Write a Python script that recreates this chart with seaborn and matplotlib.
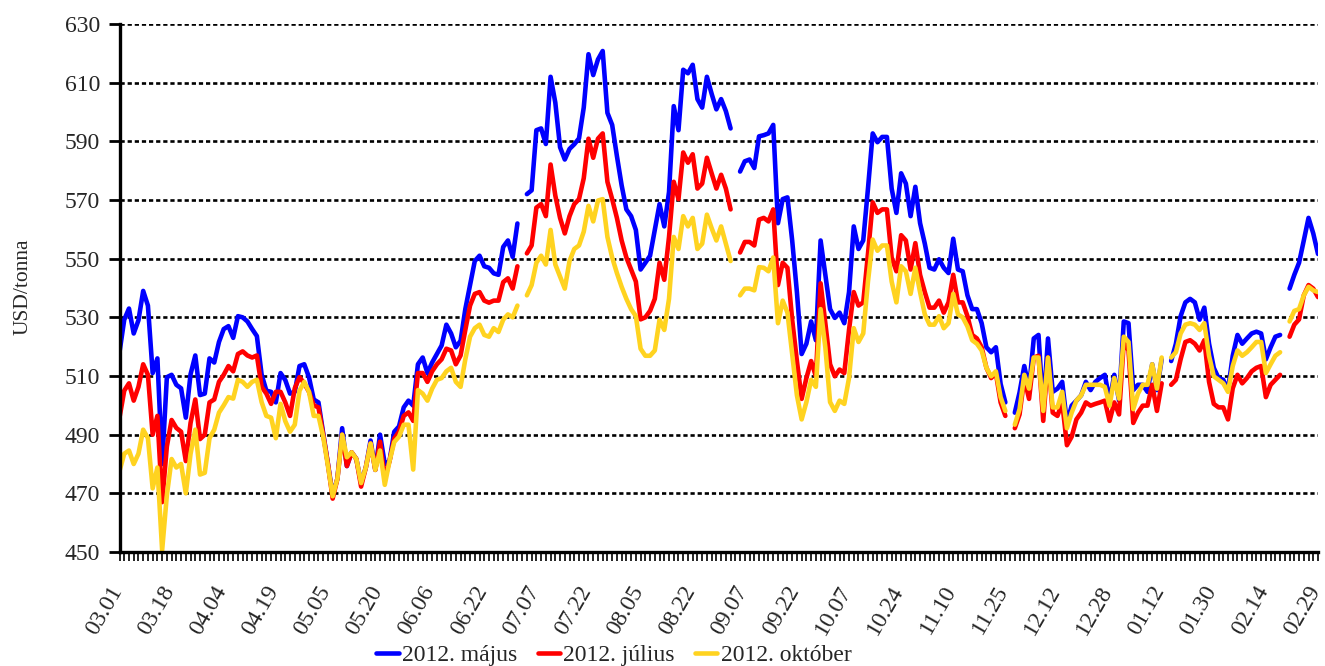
import numpy as np
import pandas as pd
import matplotlib
matplotlib.use("Agg")
import matplotlib.pyplot as plt
import matplotlib.transforms as mtransforms
import seaborn as sns

nan = np.nan

series_names = ["2012. május", "2012. július", "2012. október"]
tick_labels = ["03.01", "03.18", "04.04", "04.19", "05.05", "05.20", "06.06", "06.22",
               "07.07", "07.22", "08.05", "08.22", "09.07", "09.22", "10.07", "10.24",
               "11.10", "11.25", "12.12", "12.28", "01.12", "01.30", "02.14", "02.29"]
label_step = 11

majus = [
    518.1, 529.2, 533.0, 524.5, 529.0, 539.0, 534.0, 511.0, 516.0, 480.0,
    509.6, 510.4, 507.0, 505.8, 495.8, 510.6, 517.0, 503.5, 504.0, 516.0,
    514.6, 521.6, 526.0, 527.0, 523.0, 530.4, 530.0, 528.6, 526.0, 523.6,
    510.5, 505.0, 504.6, 501.0, 511.0, 508.6, 504.0, 504.6, 513.4, 514.0,
    509.6, 502.0, 501.0, 490.5, 480.0, 469.5, 475.0, 492.2, 479.3, 484.0,
    481.7, 473.5, 478.8, 488.0, 478.0, 490.0, 480.0, 481.0, 491.0, 492.8,
    499.3, 501.6, 499.9, 514.0, 516.3, 511.0, 514.6, 517.5, 520.4, 527.5,
    524.5, 519.8, 522.0, 532.8, 541.0, 549.2, 551.0, 547.4, 546.9, 545.0,
    544.5, 554.0, 556.2, 550.6, 562.0, nan, 572.0, 573.3, 593.8, 594.4,
    589.1, 612.0, 603.2, 588.0, 583.8, 587.4, 589.0, 591.0, 601.5, 619.7,
    612.6, 617.9, 620.8, 599.7, 595.6, 585.0, 575.0, 566.8, 564.5, 559.8,
    546.3, 548.6, 551.0, 559.8, 568.6, 561.0, 572.7, 602.0, 593.8, 614.4,
    613.2, 616.1, 604.4, 601.5, 612.0, 606.2, 600.9, 604.4, 600.3, 594.4,
    nan, 579.7, 583.2, 583.8, 580.9, 591.7, 592.1, 592.7, 595.6, 562.1,
    570.3, 570.9, 556.2, 538.6, 517.5, 521.0, 528.6, 522.2, 556.2, 544.5,
    532.8, 529.8, 531.6, 528.0, 538.6, 561.0, 553.3, 556.2, 573.9, 592.7,
    589.7, 591.5, 591.5, 573.9, 565.6, 579.1, 575.6, 564.5, 574.5, 562.1,
    555.1, 546.9, 546.3, 549.8, 546.9, 545.1, 556.8, 546.3, 545.7, 537.5,
    532.8, 532.8, 528.0, 519.8, 518.1, 519.8, 507.3, 501.0, nan, 497.5,
    504.4, 513.4, 505.7, 522.8, 524.0, 498.7, 522.8, 504.6, 505.7, 508.0,
    494.0, 499.9, 501.6, 503.4, 508.0, 505.2, 508.0, 509.3, 510.4, 501.6,
    510.4, 501.7, 528.6, 528.0, 505.2, 507.0, 507.0, 504.6, 514.0, 505.2,
    515.7, nan, 515.1, 521.0, 530.4, 535.1, 536.3, 535.1, 529.2, 533.3,
    521.0, 512.8, 509.3, 508.7, 505.2, 516.9, 524.0, 521.0, 522.8, 524.5,
    525.1, 524.5, 515.7, 519.8, 523.4, 524.0, nan, 539.8, 544.5, 548.6,
    556.2, 563.9, 558.6, 551.6,
]

julius = [
    495.8, 505.0, 507.5, 501.6, 506.3, 514.0, 510.4, 490.0, 496.4, 467.0,
    486.0, 495.0, 492.3, 491.0, 481.0, 494.0, 502.0, 488.5, 490.0, 501.0,
    502.0, 508.0, 510.4, 513.4, 511.6, 517.5, 518.4, 517.0, 516.3, 517.0,
    506.3, 504.0, 500.5, 504.6, 504.6, 501.0, 496.4, 505.8, 509.6, 507.5,
    504.6, 500.0, 499.3, 490.0, 480.0, 468.2, 475.0, 490.0, 479.3, 484.0,
    481.7, 472.3, 478.8, 487.0, 478.0, 487.6, 475.0, 481.0, 488.7, 491.0,
    496.4, 497.6, 494.7, 511.0, 511.0, 508.0, 511.6, 514.0, 515.7, 519.3,
    518.7, 514.0, 517.0, 525.7, 534.0, 538.0, 538.6, 535.7, 535.0, 535.7,
    535.7, 542.0, 543.3, 539.8, 547.4, nan, 551.8, 554.5, 567.4, 568.6,
    564.5, 582.1, 571.5, 563.9, 558.6, 564.5, 568.6, 570.3, 577.4, 590.9,
    584.4, 590.9, 592.7, 576.2, 570.3, 563.9, 556.2, 550.4, 546.3, 542.2,
    529.3, 530.0, 532.2, 536.3, 548.6, 542.8, 557.4, 576.2, 570.3, 586.2,
    582.7, 585.6, 573.9, 575.6, 584.4, 579.1, 573.9, 578.6, 573.9, 566.8,
    nan, 552.1, 555.7, 555.7, 554.5, 563.3, 563.9, 562.7, 566.8, 541.0,
    548.6, 546.9, 529.2, 515.1, 502.2, 509.3, 515.1, 509.9, 541.6, 528.0,
    514.0, 509.9, 512.2, 511.0, 525.7, 538.6, 534.0, 535.1, 551.6, 569.2,
    565.6, 566.8, 566.8, 550.4, 545.7, 558.0, 556.2, 546.3, 555.3, 544.5,
    538.6, 533.3, 533.3, 535.7, 531.6, 535.1, 544.5, 535.1, 535.1, 530.4,
    524.0, 522.8, 519.8, 512.8, 509.3, 511.0, 501.0, 496.4, nan, 492.2,
    496.9, 509.3, 502.2, 516.3, 516.9, 494.7, 516.3, 497.5, 496.4, 501.0,
    486.4, 489.3, 495.2, 497.5, 501.0, 499.9, 500.5, 501.0, 501.6, 494.7,
    501.0, 496.9, 521.6, 518.7, 494.0, 497.5, 499.9, 499.9, 507.0, 498.1,
    507.5, nan, 507.0, 508.7, 515.7, 521.6, 522.2, 521.0, 518.7, 522.2,
    508.0, 500.5, 499.3, 499.3, 495.2, 505.8, 510.4, 507.5, 509.3, 511.6,
    512.8, 513.4, 502.8, 507.0, 508.7, 510.4, nan, 523.4, 527.5, 529.3,
    537.5, 541.0, 539.8, 536.9,
]

oktober = [
    477.6, 483.5, 484.6, 480.0, 483.5, 491.7, 488.8, 471.7, 478.8, 450.6,
    469.4, 481.7, 478.8, 480.0, 470.0, 483.5, 491.7, 476.4, 477.0, 488.8,
    491.7, 497.5, 500.0, 502.8, 502.3, 508.7, 508.0, 506.3, 508.0, 508.7,
    501.1, 496.4, 495.8, 488.8, 500.5, 494.6, 491.0, 493.4, 505.0, 508.0,
    504.6, 496.4, 496.4, 489.3, 479.3, 469.0, 475.0, 490.0, 482.3, 484.0,
    481.7, 473.5, 478.8, 487.0, 478.0, 484.6, 472.9, 481.0, 487.5, 489.3,
    493.4, 493.4, 478.1, 505.2, 504.0, 501.6, 505.7, 508.7, 509.3, 511.6,
    512.8, 508.0, 506.3, 515.7, 523.4, 526.3, 527.5, 524.0, 523.4, 526.3,
    525.0, 529.2, 531.0, 530.0, 534.0, nan, 537.5, 541.0, 548.6, 551.0,
    548.0, 559.8, 548.0, 543.9, 539.8, 549.2, 553.3, 554.5, 559.2, 568.0,
    562.7, 569.8, 570.3, 557.4, 550.4, 545.1, 540.4, 536.3, 532.8, 530.4,
    519.3, 516.9, 516.9, 518.7, 529.2, 525.7, 536.3, 557.4, 553.3, 564.5,
    561.0, 563.9, 553.3, 555.1, 565.0, 560.4, 556.2, 561.0, 555.1, 549.2,
    nan, 537.5, 539.8, 539.8, 539.2, 547.1, 546.9, 545.7, 550.4, 528.0,
    535.7, 531.6, 517.5, 503.4, 495.2, 501.1, 508.7, 506.3, 532.8, 519.8,
    501.1, 498.1, 501.6, 500.5, 509.3, 526.3, 521.6, 524.5, 542.2, 556.5,
    552.7, 554.5, 554.5, 542.2, 535.1, 547.4, 545.7, 538.0, 546.9, 538.6,
    531.0, 527.5, 527.5, 530.4, 526.3, 528.0, 538.0, 531.0, 530.0, 526.9,
    522.2, 521.0, 518.7, 512.8, 509.9, 511.6, 502.8, 498.1, nan, 493.4,
    498.7, 510.4, 505.7, 516.3, 516.3, 498.1, 516.3, 499.3, 499.3, 504.6,
    492.2, 497.5, 501.6, 503.4, 507.0, 507.0, 507.0, 507.0, 506.3, 499.9,
    509.3, 502.3, 523.4, 521.6, 498.7, 504.0, 507.0, 507.0, 514.0, 505.7,
    516.3, nan, 516.3, 518.1, 524.5, 527.5, 528.0, 527.5, 525.7, 528.0,
    516.9, 509.9, 508.7, 507.5, 504.6, 513.4, 518.7, 516.9, 518.1, 519.8,
    521.6, 521.6, 511.0, 514.0, 516.9, 518.1, nan, 528.6, 532.2, 532.8,
    537.5, 540.4, 539.2, 538.6,
]

colors = ["#0000FF", "#FF0000", "#FFD320"]

# ---- long table with segments so that gaps (missing days) stay open ----
rows = []
for name, vals in zip(series_names, [majus, julius, oktober]):
    seg = 0
    for i, v in enumerate(vals):
        if np.isnan(v):
            seg += 1
            continue
        rows.append((i, v, name, f"{name}-{seg}"))
df = pd.DataFrame(rows, columns=["idx", "price", "series", "seg"])
n_points = len(majus)

sns.set_theme(style="white")
plt.rcParams["font.family"] = ["Liberation Serif", "DejaVu Serif"]

W, H = 1325, 666
fig = plt.figure(figsize=(W / 100, H / 100), dpi=100)
left_px, right_px, top_px, bot_px = 119.5, 1318.0, 24.0, 552.0
ax = fig.add_axes([left_px / W, 1 - bot_px / H, (right_px - left_px) / W, (bot_px - top_px) / H])

sns.lineplot(data=df, x="idx", y="price", hue="series", units="seg", estimator=None,
             hue_order=series_names, palette=dict(zip(series_names, colors)),
             linewidth=3.3, ax=ax, legend=True, sort=True)

ax.set_xlim(0, n_points - 1)
ax.set_ylim(450, 630)
ax.set_yticks(np.arange(450, 631, 20))
ax.yaxis.grid(True, color="black", linestyle=(0, (1.6, 1.1)), linewidth=1.9)
ax.xaxis.grid(False)
ax.set_axisbelow(True)

xt = list(range(n_points))
xl = [""] * n_points
for k, lab in enumerate(tick_labels):
    xl[k * label_step] = lab
ax.set_xticks(xt)
ax.set_xticklabels(xl, rotation=60, ha="right", va="center", rotation_mode="anchor", fontsize=17)
ax.tick_params(axis="x", direction="out", length=6.5, width=1.2, color="black", pad=19, bottom=True)
ax.tick_params(axis="y", direction="out", length=8, width=2.0, color="black", labelsize=17, pad=6, left=True)
offset = mtransforms.ScaledTranslation(-2 / 100, 0, fig.dpi_scale_trans)
for lbl in ax.get_xticklabels():
    lbl.set_transform(lbl.get_transform() + offset)

for s in ["top", "right"]:
    ax.spines[s].set_visible(False)
for s in ["left", "bottom"]:
    ax.spines[s].set_color("black")
    ax.spines[s].set_linewidth(2.4)

ax.set_xlabel("")
ax.set_ylabel("USD/tonna", fontsize=15.5)
ax.yaxis.label.set_va("center")
ax.yaxis.set_label_coords((23 - left_px) / (right_px - left_px), (552 - 287) / (552 - 24))

handles, labels = ax.get_legend_handles_labels()
if ax.get_legend() is not None:
    ax.get_legend().remove()
fig.legend(handles, labels, loc="center", bbox_to_anchor=(614 / W, 1 - 655 / H), ncol=3,
           frameon=False, fontsize=17, handlelength=0.95, handletextpad=0.15,
           columnspacing=0.85, borderpad=0.0)

fig.savefig("out.png", dpi=100)
